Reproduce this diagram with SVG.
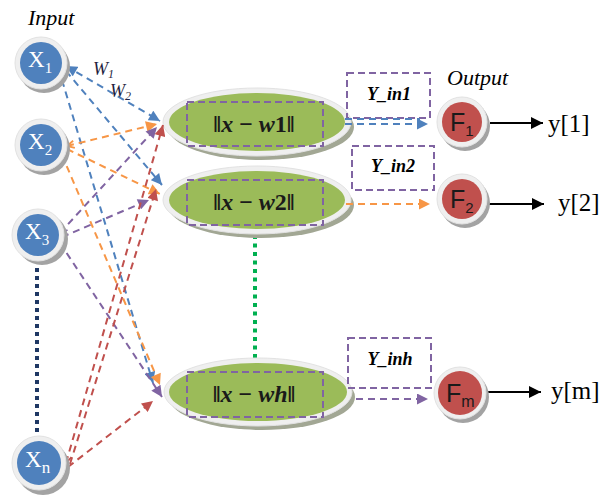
<svg xmlns="http://www.w3.org/2000/svg" width="603" height="499" viewBox="0 0 603 499">
  <defs>
    <style>
      .ring { fill: #EFEFEF; stroke: #E2E2E2; stroke-width: 1; }
      .shadow { fill: #A3A3A3; }
      .in { fill: #4F81BD; }
      .out { fill: #C0504D; }
      .hid { fill: #9BBB59; }
      .hidshadow { fill: #A2A794; }
      .box { fill: none; stroke: #8064A2; stroke-width: 2; stroke-dasharray: 7 4; }
      .dash { fill: none; stroke-width: 2; stroke-dasharray: 7 5; }
      .blue { stroke: #4F81BD; }
      .orange { stroke: #F79646; }
      .purple { stroke: #8064A2; }
      .red { stroke: #C0504D; }
      .xlab { font-family: "Liberation Serif", serif; fill: #FFFFFF; font-size: 23px; }
      .flab { font-family: "Liberation Sans", sans-serif; fill: #1A1A1A; font-size: 25px; }
      .ylab { font-family: "Liberation Serif", serif; fill: #000000; font-size: 25px; }
      .hlab { font-family: "Liberation Serif", serif; fill: #1A1A1A; font-size: 24px; font-weight: bold; }
      .ilab { font-family: "Liberation Serif", serif; fill: #000000; font-size: 18px; font-weight: bold; font-style: italic; }
      .title { font-family: "Liberation Serif", serif; fill: #000000; font-size: 22px; font-style: italic; }
      .wlab { font-family: "Liberation Serif", serif; fill: #1F1F3F; font-size: 18px; font-style: italic; }
    </style>
    <marker id="ah-blue" viewBox="0 0 10 10" refX="10" refY="5" markerWidth="12" markerHeight="11" markerUnits="userSpaceOnUse" orient="auto-start-reverse">
      <path d="M0,0 L10,5 L0,10 z" fill="#4F81BD"/>
    </marker>
    <marker id="ah-orange" viewBox="0 0 10 10" refX="10" refY="5" markerWidth="12" markerHeight="11" markerUnits="userSpaceOnUse" orient="auto-start-reverse">
      <path d="M0,0 L10,5 L0,10 z" fill="#F79646"/>
    </marker>
    <marker id="ah-purple" viewBox="0 0 10 10" refX="10" refY="5" markerWidth="12" markerHeight="11" markerUnits="userSpaceOnUse" orient="auto-start-reverse">
      <path d="M0,0 L10,5 L0,10 z" fill="#8064A2"/>
    </marker>
    <marker id="ah-red" viewBox="0 0 10 10" refX="10" refY="5" markerWidth="12" markerHeight="11" markerUnits="userSpaceOnUse" orient="auto-start-reverse">
      <path d="M0,0 L10,5 L0,10 z" fill="#C0504D"/>
    </marker>
    <marker id="ah-black" viewBox="0 0 10 10" refX="10" refY="5" markerWidth="13" markerHeight="12" markerUnits="userSpaceOnUse" orient="auto">
      <path d="M0,0 L10,5 L0,10 z" fill="#000000"/>
    </marker>
    <!-- open chevrons at the input ends -->
    <marker id="ch-orange" viewBox="0 0 10 10" refX="9" refY="5" markerWidth="9" markerHeight="9" markerUnits="userSpaceOnUse" orient="auto-start-reverse">
      <path d="M1,1 L9,5 L1,9" fill="none" stroke="#F79646" stroke-width="2"/>
    </marker>
    <marker id="ch-purple" viewBox="0 0 10 10" refX="9" refY="5" markerWidth="9" markerHeight="9" markerUnits="userSpaceOnUse" orient="auto-start-reverse">
      <path d="M1,1 L9,5 L1,9" fill="none" stroke="#8064A2" stroke-width="2"/>
    </marker>
    <marker id="ch-red" viewBox="0 0 10 10" refX="9" refY="5" markerWidth="9" markerHeight="9" markerUnits="userSpaceOnUse" orient="auto-start-reverse">
      <path d="M1,1 L9,5 L1,9" fill="none" stroke="#C0504D" stroke-width="2"/>
    </marker>
  </defs>

  <rect x="0" y="0" width="603" height="499" fill="#FFFFFF"/>

  <!-- layer titles -->
  <text class="title" x="28" y="25">Input</text>
  <text class="title" x="447" y="85">Output</text>

  <!-- dotted ellipsis lines -->
  <line x1="37" y1="268" x2="37" y2="434" stroke="#1F3864" stroke-width="4" stroke-dasharray="4 4"/>
  <line x1="255" y1="235" x2="255" y2="358" stroke="#00B050" stroke-width="4" stroke-dasharray="4 4.5"/>

  <!-- hidden layer -->
  <g id="h1">
    <ellipse class="hidshadow" cx="261" cy="127" rx="93" ry="33"/>
    <ellipse class="ring" cx="257" cy="122" rx="94" ry="34"/>
    <ellipse class="hid" cx="257" cy="122" rx="88" ry="29"/>
    <rect class="box" x="187" y="102" width="136" height="44"/>
    <text class="hlab" x="254" y="132" text-anchor="middle">‖<tspan font-style="italic">x</tspan> − <tspan font-style="italic">w</tspan>1‖</text>
  </g>
  <g id="h2">
    <ellipse class="hidshadow" cx="261" cy="205" rx="93" ry="33"/>
    <ellipse class="ring" cx="257" cy="200" rx="94" ry="34"/>
    <ellipse class="hid" cx="257" cy="200" rx="88" ry="29"/>
    <rect class="box" x="187" y="180" width="136" height="45"/>
    <text class="hlab" x="254" y="210" text-anchor="middle">‖<tspan font-style="italic">x</tspan> − <tspan font-style="italic">w</tspan>2‖</text>
  </g>
  <g id="hh">
    <ellipse class="hidshadow" cx="262" cy="397" rx="93" ry="33"/>
    <ellipse class="ring" cx="258" cy="392" rx="94" ry="34"/>
    <ellipse class="hid" cx="258" cy="392" rx="89" ry="29"/>
    <rect class="box" x="187" y="372" width="136" height="45"/>
    <text class="hlab" x="254" y="402" text-anchor="middle">‖<tspan font-style="italic">x</tspan> − <tspan font-style="italic">wh</tspan>‖</text>
  </g>

  <!-- summation boxes -->
  <g id="yin1">
    <rect class="box" x="347" y="73" width="83" height="45"/>
    <text class="ilab" x="389" y="100" text-anchor="middle">Y_in1</text>
  </g>
  <g id="yin2">
    <rect class="box" x="352" y="146" width="82" height="44"/>
    <text class="ilab" x="393" y="172" text-anchor="middle">Y_in2</text>
  </g>
  <g id="yinh">
    <rect class="box" x="348" y="338" width="83" height="50"/>
    <text class="ilab" x="390" y="365" text-anchor="middle">Y_inh</text>
  </g>

  <!-- connectors -->
  <g id="connectors">
    <!-- from X1 -->
    <line class="dash blue" x1="66" y1="66" x2="160" y2="121" marker-start="url(#ah-blue)" marker-end="url(#ah-blue)"/>
    <line class="dash blue" x1="66" y1="71" x2="162" y2="185" marker-end="url(#ah-blue)"/>
    <line class="dash blue" x1="62" y1="80" x2="153" y2="383" marker-end="url(#ah-blue)"/>
    <!-- from X2 -->
    <line class="dash orange" x1="67" y1="146" x2="157" y2="124" marker-start="url(#ch-orange)" marker-end="url(#ah-orange)"/>
    <line class="dash orange" x1="67" y1="149" x2="160" y2="194" marker-end="url(#ah-orange)"/>
    <line class="dash orange" x1="62" y1="155" x2="160" y2="385" marker-end="url(#ah-orange)"/>
    <!-- from X3 -->
    <line class="dash purple" x1="60" y1="233" x2="157" y2="127" marker-start="url(#ch-purple)" marker-end="url(#ah-purple)"/>
    <line class="dash purple" x1="62" y1="237" x2="149" y2="200" marker-end="url(#ah-purple)"/>
    <line class="dash purple" x1="60" y1="243" x2="162" y2="397" marker-end="url(#ah-purple)"/>
    <!-- from Xn -->
    <line class="dash red" x1="66" y1="463" x2="163" y2="125" marker-start="url(#ch-red)" marker-end="url(#ah-red)"/>
    <line class="dash red" x1="70" y1="464" x2="156" y2="189" marker-end="url(#ah-red)"/>
    <line class="dash red" x1="68" y1="467" x2="153" y2="401" marker-end="url(#ah-red)"/>
    <!-- hidden to output -->
    <line class="dash blue" x1="345" y1="119" x2="420" y2="119"/>
    <line class="dash blue" x1="345" y1="124" x2="428" y2="124" marker-end="url(#ah-blue)"/>
    <line class="dash orange" x1="346" y1="204" x2="430" y2="204" marker-end="url(#ah-orange)"/>
    <line class="dash purple" x1="356" y1="399" x2="428" y2="399" marker-end="url(#ah-purple)"/>
    <!-- outputs -->
    <line x1="490" y1="123" x2="543" y2="123" stroke="#000000" stroke-width="2" marker-end="url(#ah-black)"/>
    <line x1="489" y1="204" x2="544" y2="204" stroke="#000000" stroke-width="2" marker-end="url(#ah-black)"/>
    <line x1="486" y1="392" x2="541" y2="392" stroke="#000000" stroke-width="2" marker-end="url(#ah-black)"/>
  </g>

  <!-- weight labels -->
  <text class="wlab" x="93" y="75">W<tspan font-size="12" dy="3">1</tspan></text>
  <text class="wlab" x="110" y="97">W<tspan font-size="12" dy="3">2</tspan></text>

  <!-- input nodes -->
  <g id="x1">
    <circle class="shadow" cx="44" cy="67" r="26"/>
    <circle class="ring" cx="41" cy="63" r="26"/>
    <circle class="in" cx="41" cy="63" r="21"/>
    <text class="xlab" x="28" y="67">X<tspan font-size="15" dy="6">1</tspan></text>
  </g>
  <g id="x2">
    <circle class="shadow" cx="44" cy="149" r="26"/>
    <circle class="ring" cx="41" cy="145" r="26"/>
    <circle class="in" cx="41" cy="145" r="21"/>
    <text class="xlab" x="28" y="149">X<tspan font-size="15" dy="6">2</tspan></text>
  </g>
  <g id="x3">
    <circle class="shadow" cx="42" cy="239" r="26"/>
    <circle class="ring" cx="38" cy="235" r="26"/>
    <circle class="in" cx="38" cy="235" r="21"/>
    <text class="xlab" x="25" y="239">X<tspan font-size="15" dy="6">3</tspan></text>
  </g>
  <g id="xn">
    <circle class="shadow" cx="43" cy="468" r="27"/>
    <circle class="ring" cx="39" cy="463" r="27"/>
    <circle class="in" cx="39" cy="463" r="22"/>
    <text class="xlab" x="25" y="467">X<tspan font-size="17" dy="6">n</tspan></text>
  </g>

  <!-- output nodes -->
  <g id="f1">
    <circle class="shadow" cx="465" cy="126" r="25"/>
    <circle class="ring" cx="462" cy="122" r="25"/>
    <circle class="out" cx="462" cy="122" r="20"/>
    <text class="flab" x="450" y="131">F<tspan font-size="15" dy="5">1</tspan></text>
  </g>
  <g id="f2">
    <circle class="shadow" cx="465" cy="203" r="25"/>
    <circle class="ring" cx="462" cy="199" r="25"/>
    <circle class="out" cx="462" cy="199" r="20"/>
    <text class="flab" x="450" y="208">F<tspan font-size="15" dy="5">2</tspan></text>
  </g>
  <g id="fm">
    <circle class="shadow" cx="463" cy="397" r="26"/>
    <circle class="ring" cx="460" cy="393" r="26"/>
    <circle class="out" cx="460" cy="393" r="22"/>
    <text class="flab" x="446" y="402">F<tspan font-size="16" dy="5">m</tspan></text>
  </g>

  <!-- output values -->
  <text class="ylab" x="548" y="132">y[1]</text>
  <text class="ylab" x="558" y="211">y[2]</text>
  <text class="ylab" x="551" y="399">y[m]</text>
</svg>
